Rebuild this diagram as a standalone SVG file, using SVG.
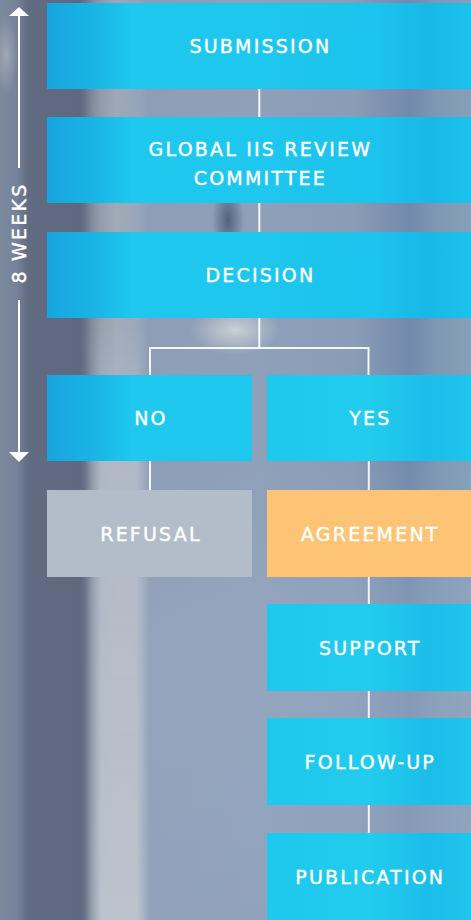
<svg xmlns="http://www.w3.org/2000/svg" width="471" height="920" viewBox="0 0 471 920">
  <defs>
    <linearGradient id="bg" x1="0" y1="0" x2="471" y2="0" gradientUnits="userSpaceOnUse">
      <stop offset="0" stop-color="#7d899c"/>
      <stop offset="0.035" stop-color="#75829a"/>
      <stop offset="0.06" stop-color="#616c82"/>
      <stop offset="0.17" stop-color="#5e697f"/>
      <stop offset="0.2" stop-color="#7d889a"/>
      <stop offset="0.245" stop-color="#98a3b0"/>
      <stop offset="0.3" stop-color="#8d9db5"/>
      <stop offset="0.55" stop-color="#8fa0b9"/>
      <stop offset="0.75" stop-color="#8a9db6"/>
      <stop offset="0.87" stop-color="#728aac"/>
      <stop offset="0.93" stop-color="#7f98b3"/>
      <stop offset="1" stop-color="#86a0b8"/>
    </linearGradient>
    <linearGradient id="bandfade" x1="0" y1="0" x2="0" y2="920" gradientUnits="userSpaceOnUse">
      <stop offset="0" stop-color="#b4bcc8" stop-opacity="0.2"/>
      <stop offset="0.35" stop-color="#b4bcc8" stop-opacity="0.35"/>
      <stop offset="0.5" stop-color="#b4bcc8" stop-opacity="0.9"/>
      <stop offset="1" stop-color="#bcc3cd" stop-opacity="1"/>
    </linearGradient>
    <linearGradient id="bandx" x1="0" y1="0" x2="1" y2="0">
      <stop offset="0" stop-color="#fff" stop-opacity="0"/>
      <stop offset="0.25" stop-color="#fff" stop-opacity="1"/>
      <stop offset="0.8" stop-color="#fff" stop-opacity="1"/>
      <stop offset="1" stop-color="#fff" stop-opacity="0"/>
    </linearGradient>
    <mask id="bandmask">
      <rect x="85" y="0" width="65" height="920" fill="url(#bandx)"/>
    </mask>
    <linearGradient id="lowfade" x1="0" y1="0" x2="0" y2="920" gradientUnits="userSpaceOnUse">
      <stop offset="0" stop-color="#9aabc3" stop-opacity="0"/>
      <stop offset="0.5" stop-color="#9aabc3" stop-opacity="0"/>
      <stop offset="0.7" stop-color="#9aabc3" stop-opacity="0.5"/>
      <stop offset="1" stop-color="#93a4bf" stop-opacity="0.6"/>
    </linearGradient>
    <radialGradient id="darkspot" cx="0.5" cy="0.5" r="0.5">
      <stop offset="0" stop-color="#4e5b76" stop-opacity="0.9"/>
      <stop offset="1" stop-color="#4e5b76" stop-opacity="0"/>
    </radialGradient>
    <radialGradient id="lightspot" cx="0.5" cy="0.5" r="0.5">
      <stop offset="0" stop-color="#ccd2d6" stop-opacity="0.95"/>
      <stop offset="1" stop-color="#ccd2d6" stop-opacity="0"/>
    </radialGradient>
    <linearGradient id="blue" x1="47" y1="0" x2="471" y2="0" gradientUnits="userSpaceOnUse">
      <stop offset="0" stop-color="#17a6de"/>
      <stop offset="0.1" stop-color="#19b2e4"/>
      <stop offset="0.2" stop-color="#1fc8ee"/>
      <stop offset="0.5" stop-color="#1ec7ee"/>
      <stop offset="0.78" stop-color="#1cc3ec"/>
      <stop offset="0.9" stop-color="#18b8e8"/>
      <stop offset="1" stop-color="#1bc3ec"/>
    </linearGradient>
    <linearGradient id="blue2" x1="267" y1="0" x2="471" y2="0" gradientUnits="userSpaceOnUse">
      <stop offset="0" stop-color="#1ec8ee"/>
      <stop offset="0.5" stop-color="#21ccee"/>
      <stop offset="0.8" stop-color="#1bbde9"/>
      <stop offset="1" stop-color="#1fc6ed"/>
    </linearGradient>
    <style>
      .box { fill: url(#blue); }
      .boxr { fill: url(#blue2); }
      .refusal { fill: #b2bdc9; }
      .agree { fill: #fec476; }
      .lbl { font-family: "DejaVu Sans", "Liberation Sans", sans-serif; font-size: 19px; letter-spacing: 2.2px; fill: #ffffff; stroke: #ffffff; stroke-width: 0.4px; text-anchor: middle; }
      .conn { stroke: #ffffff; stroke-opacity: 0.9; stroke-width: 2; fill: none; }
      .axis { stroke: #ffffff; stroke-width: 2; fill: none; }
    </style>
  </defs>

  <g id="background">
    <rect x="0" y="0" width="471" height="920" fill="url(#bg)"/>
    <rect x="140" y="0" width="331" height="920" fill="url(#lowfade)"/>
    <rect x="85" y="0" width="65" height="920" fill="url(#bandfade)" mask="url(#bandmask)"/>
    <ellipse cx="6" cy="55" rx="12" ry="40" fill="url(#lightspot)" opacity="0.45"/>
    <ellipse cx="228" cy="220" rx="16" ry="38" fill="url(#darkspot)"/>
    <ellipse cx="235" cy="330" rx="45" ry="25" fill="url(#lightspot)"/>
  </g>

  <g id="timeline">
    <polygon points="19,7 29,16 9,16" fill="#ffffff"/>
    <line class="axis" x1="19" y1="15" x2="19" y2="168"/>
    <line class="axis" x1="19" y1="300" x2="19" y2="453"/>
    <polygon points="9,452 29,452 19,462" fill="#ffffff"/>
    <text class="lbl" transform="translate(26,233) rotate(-90)">8 WEEKS</text>
  </g>

  <g id="connectors">
    <line class="conn" x1="259.3" y1="89" x2="259.3" y2="117"/>
    <line class="conn" x1="259.3" y1="203" x2="259.3" y2="232"/>
    <polyline class="conn" points="259.3,318 259.3,348 150,348 150,375"/>
    <polyline class="conn" points="259.3,348 368.5,348 368.5,375"/>
    <line class="conn" x1="150" y1="461" x2="150" y2="490"/>
    <line class="conn" x1="368.8" y1="461" x2="368.8" y2="490"/>
    <line class="conn" x1="368.8" y1="577" x2="368.8" y2="604"/>
    <line class="conn" x1="368.8" y1="691" x2="368.8" y2="718"/>
    <line class="conn" x1="368.8" y1="805" x2="368.8" y2="833"/>
  </g>

  <g id="submission">
    <rect class="box" x="47" y="3" width="424" height="86"/>
    <text class="lbl" x="260.4" y="53">SUBMISSION</text>
  </g>
  <g id="committee">
    <rect class="box" x="47" y="117" width="424" height="86"/>
    <text class="lbl" x="260.4" y="155.5">GLOBAL IIS REVIEW</text>
    <text class="lbl" x="260.4" y="184.5">COMMITTEE</text>
  </g>
  <g id="decision">
    <rect class="box" x="47" y="232" width="424" height="86"/>
    <text class="lbl" x="260.4" y="282">DECISION</text>
  </g>
  <g id="no">
    <rect class="box" x="47" y="375" width="205" height="86"/>
    <text class="lbl" x="151" y="425">NO</text>
  </g>
  <g id="yes">
    <rect class="boxr" x="267" y="375" width="204" height="86"/>
    <text class="lbl" x="370.3" y="425">YES</text>
  </g>
  <g id="refusal">
    <rect class="refusal" x="47" y="490" width="205" height="87"/>
    <text class="lbl" x="151" y="540.5">REFUSAL</text>
  </g>
  <g id="agreement">
    <rect class="agree" x="267" y="490" width="204" height="87"/>
    <text class="lbl" x="370.3" y="540.5">AGREEMENT</text>
  </g>
  <g id="support">
    <rect class="boxr" x="267" y="604" width="204" height="87"/>
    <text class="lbl" x="370.3" y="654.5">SUPPORT</text>
  </g>
  <g id="followup">
    <rect class="boxr" x="267" y="718" width="204" height="87"/>
    <text class="lbl" x="370.3" y="768.5">FOLLOW-UP</text>
  </g>
  <g id="publication">
    <rect class="boxr" x="267" y="833" width="204" height="87"/>
    <text class="lbl" x="370.3" y="883.5">PUBLICATION</text>
  </g>
</svg>
